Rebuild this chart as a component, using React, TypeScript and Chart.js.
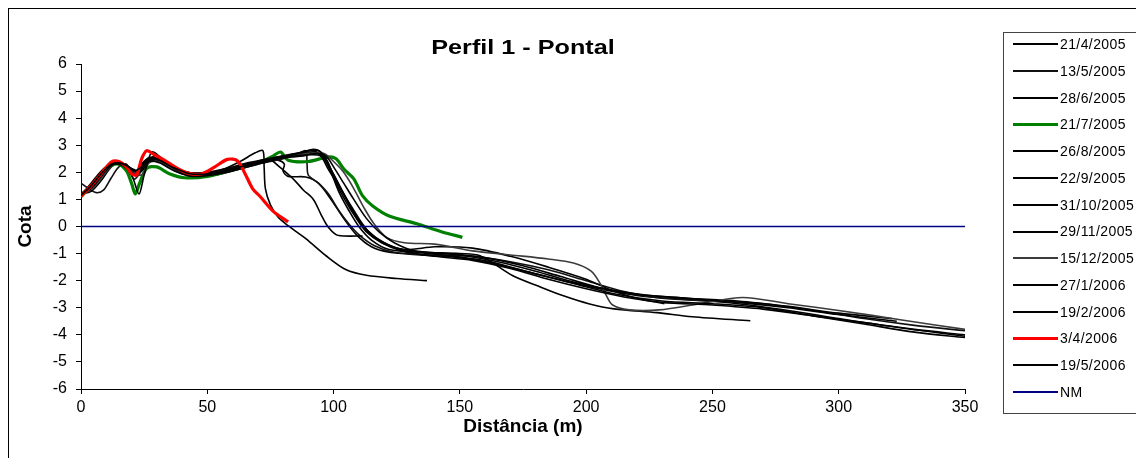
import React, { useEffect, useRef } from "react";
import { Chart, registerables } from "chart.js";

Chart.register(...registerables);

type P = [number, number];

// ---- data (distance m, cota) ----
const s21_4_2005: P[] = [[0,1.15],[4,1.6],[8,2.05],[12,2.35],[15,2.35],[18,2.2],[21,1.95],[24,2.3],[27,2.55],[31,2.45],[36,2.15],[42,1.95],[50,1.95],[58,2.1],[66,2.3],[74,2.45],[78,2.45],[80.5,2.3],[80,2.05],[82,1.85],[89,1.83],[94,1.6],[99,1.0],[104,0.3],[109,-0.3],[115,-0.75],[122,-0.95],[135,-1.05],[150,-1.15],[165,-1.4],[180,-1.75],[200,-2.2],[220,-2.55],[240,-2.7],[260,-2.85],[280,-3.1],[300,-3.4],[325,-3.75],[350,-4.05]];
const s13_5_2005: P[] = [[0,1.6],[3,1.4],[6,1.25],[9,1.35],[12,1.8],[15,2.2],[18,2.3],[21,1.75],[24,2.05],[28,2.45],[33,2.3],[40,1.95],[48,1.85],[56,1.95],[64,2.15],[72,2.35],[80,2.5],[86,2.7],[89,2.8],[89.5,2.3],[90,1.9],[94,1.6],[98,1.2],[102,0.6],[106,0.1],[110,-0.3],[116,-0.7],[124,-0.95],[138,-1.05],[155,-1.1],[170,-1.3],[185,-1.6],[200,-2.0],[215,-2.4],[230,-2.65],[250,-2.75],[270,-2.85],[290,-3.1],[310,-3.4],[330,-3.65],[350,-3.85]];
const s28_6_2005: P[] = [[0,1.2],[4,1.3],[8,1.7],[12,2.2],[15,2.35],[19,2.2],[22,1.9],[25,2.25],[29,2.6],[33,2.4],[40,2.05],[48,1.95],[56,2.1],[63,2.4],[69,2.72],[72,2.8],[72.5,2.2],[73,1.4],[75,0.8],[78,0.35],[82,0.03],[89,-0.45],[97,-1.08],[105,-1.6],[113,-1.8],[125,-1.92],[137,-2.0]];
const s21_7_2005: P[] = [[0,1.1],[4,1.5],[8,1.95],[12,2.25],[15,2.3],[18,2.05],[20,1.6],[21.5,1.2],[23,1.55],[26,2.15],[30,2.2],[35,1.95],[41,1.8],[50,1.85],[60,2.1],[70,2.35],[76,2.6],[79,2.75],[82,2.45],[90,2.4],[98,2.57],[101,2.5],[104,2.13],[108,1.76],[111.5,1.13],[115.5,0.76],[122,0.39],[133,0.1],[143,-0.2],[151,-0.4]];
const s26_8_2005: P[] = [[0,1.15],[4,1.45],[8,1.9],[12,2.3],[16,2.3],[19,2.15],[22,2.0],[25,2.35],[29,2.45],[34,2.3],[41,1.95],[49,1.9],[57,2.05],[64,2.25],[70,2.4],[75,2.45],[78,2.25],[84,1.76],[88,1.35],[92,1.0],[95,0.45],[97.5,0.03],[101,-0.3],[104,-0.35],[111.5,-0.35]];
const s22_9_2005: P[] = [[0,1.15],[4,1.55],[8,2.0],[12,2.3],[16,2.3],[20,2.05],[23,2.0],[26,2.4],[30,2.5],[35,2.25],[42,2.0],[50,2.0],[58,2.15],[66,2.35],[74,2.5],[82,2.65],[88,2.75],[92,2.8],[95,2.6],[98,2.1],[102,1.5],[106,0.9],[110,0.3],[114,-0.2],[120,-0.6],[128,-0.85],[140,-0.75],[155,-0.8],[170,-1.1],[185,-1.5],[200,-1.95],[210,-2.35],[220,-2.65],[231,-2.85]];
const s31_10_2005: P[] = [[0,1.2],[4,1.5],[8,1.95],[12,2.3],[16,2.3],[19,2.1],[22,1.95],[25,2.3],[29,2.45],[34,2.25],[40,2.0],[48,1.9],[56,2.0],[64,2.2],[72,2.4],[80,2.55],[88,2.7],[93,2.75],[96,2.55],[99,2.0],[102,1.3],[106,0.6],[110,0.0],[115,-0.5],[122,-0.85],[135,-0.95],[150,-1.0],[158,-1.08],[171,-1.82],[181,-2.2],[191,-2.56],[201,-2.85],[211,-3.04],[228,-3.18],[242,-3.33],[265,-3.48]];
const s29_11_2005: P[] = [[0,1.15],[4,1.55],[8,2.0],[12,2.3],[16,2.35],[19,2.2],[22,2.05],[25,2.4],[29,2.55],[34,2.35],[40,2.05],[48,1.95],[56,2.05],[64,2.25],[72,2.45],[80,2.6],[86,2.7],[90,2.8],[94,2.8],[97,2.5],[100,1.9],[104,1.2],[108,0.5],[113,-0.1],[118,-0.5],[125,-0.8],[135,-0.95],[150,-1.05],[165,-1.3],[180,-1.65],[195,-2.05],[210,-2.35],[225,-2.55],[240,-2.65],[260,-2.75],[280,-2.95],[300,-3.2],[321,-3.4]];
const s15_12_2005: P[] = [[0,1.2],[5,1.45],[9,1.9],[13,2.3],[17,2.3],[21,2.0],[24,1.9],[27,2.35],[31,2.4],[37,2.1],[44,1.9],[52,1.95],[60,2.1],[68,2.3],[76,2.45],[84,2.6],[90,2.7],[96,2.7],[100,2.4],[104,2.0],[108,1.4],[112,0.7],[116,0.1],[121,-0.4],[128,-0.6],[140,-0.65],[155,-0.9],[170,-1.05],[185,-1.2],[195,-1.35],[202,-1.65],[205.5,-2.1],[208,-2.55],[210.5,-2.9],[217,-3.08],[229,-3.08],[245,-2.85],[262,-2.62],[280,-2.85],[300,-3.1],[325,-3.45],[350,-3.8]];
const s27_1_2006: P[] = [[0,1.15],[4,1.4],[8,1.85],[12,2.25],[15,2.3],[18,2.15],[20.5,1.8],[23,1.2],[25,1.9],[28,2.75],[31,2.6],[36,2.2],[42,1.95],[50,1.9],[58,2.05],[66,2.25],[74,2.45],[82,2.6],[88,2.75],[92,2.85],[95,2.75],[98,2.3],[101,1.6],[105,0.9],[109,0.3],[113,-0.2],[119,-0.6],[127,-0.9],[140,-1.1],[155,-1.25],[170,-1.55],[185,-1.95],[200,-2.3],[215,-2.6],[230,-2.8],[250,-2.9],[270,-3.05],[290,-3.3],[310,-3.55],[330,-3.8],[350,-4.0]];
const s19_2_2006: P[] = [[0,1.2],[4,1.55],[8,2.0],[12,2.3],[15,2.35],[18,2.25],[21,2.1],[24,2.05],[27,2.4],[31,2.35],[37,2.05],[44,1.85],[52,1.9],[60,2.05],[68,2.25],[76,2.45],[82,2.55],[88,2.6],[93,2.7],[97,2.6],[100,2.2],[104,1.6],[108,1.0],[113,0.3],[118,-0.2],[124,-0.6],[132,-0.9],[145,-1.0],[160,-1.15],[175,-1.45],[190,-1.85],[205,-2.25],[220,-2.5],[240,-2.65],[260,-2.8],[280,-3.0],[300,-3.25],[323,-3.5]];
const s3_4_2006: P[] = [[0,1.12],[4,1.5],[8,1.95],[12,2.38],[15,2.4],[18,2.2],[20,1.95],[22,1.9],[24,2.5],[26,2.8],[29,2.65],[33,2.45],[38,2.15],[43,1.95],[48,1.95],[53,2.2],[58,2.48],[62,2.42],[65,1.94],[68,1.39],[71,1.1],[76,0.57],[82,0.17]];
const s19_5_2006: P[] = [[0,1.15],[4,1.5],[8,1.95],[12,2.3],[15,2.35],[18,2.25],[21,2.05],[24,2.2],[27,2.5],[31,2.45],[36,2.2],[43,1.95],[51,1.95],[59,2.1],[67,2.3],[75,2.45],[80,2.55],[85,2.6],[90,2.65],[95,2.6],[99,2.1],[103,1.4],[107,0.7],[111,0.1],[116,-0.4],[123,-0.75],[133,-0.95],[148,-1.1],[162,-1.3],[178,-1.7],[195,-2.1],[212,-2.5],[230,-2.75],[250,-2.85],[270,-3.0],[290,-3.3],[310,-3.6],[330,-3.9],[350,-4.1]];
const nmLevel: P[] = [[0,0],[350,0]];

const seriesLabels = ["21/4/2005","13/5/2005","28/6/2005","21/7/2005","26/8/2005","22/9/2005","31/10/2005","29/11/2005","15/12/2005","27/1/2006","19/2/2006","3/4/2006","19/5/2006","NM"];
const seriesData: P[][] = [s21_4_2005,s13_5_2005,s28_6_2005,s21_7_2005,s26_8_2005,s22_9_2005,s31_10_2005,s29_11_2005,s15_12_2005,s27_1_2006,s19_2_2006,s3_4_2006,s19_5_2006,nmLevel];
const seriesColors = ["#000000","#111111","#000000","#008000","#000000","#000000","#000000","#000000","#3c3c3c","#000000","#000000","#ff0000","#000000","#000080"];
const seriesWidths = [1.6,1.6,1.6,3.2,1.6,1.6,1.6,1.6,1.6,1.6,1.6,3.2,1.6,1.6];

const xTickValues = [0,50,100,150,200,250,300,350];
const yTickValues = [-6,-5,-4,-3,-2,-1,0,1,2,3,4,5,6];

const FONT = '"Liberation Sans", Arial, Helvetica, sans-serif';

const titlePlugin = {
  id: "customTitle",
  afterDraw(chart: any) {
    const { ctx, chartArea } = chart;
    ctx.save();
    ctx.font = `bold 21px ${FONT}`;
    ctx.fillStyle = "#000";
    ctx.textAlign = "center";
    ctx.textBaseline = "middle";
    ctx.translate((chartArea.left + chartArea.right) / 2, 40);
    ctx.scale(1.2, 1);
    ctx.fillText("Perfil 1 - Pontal", 0, 0);
    ctx.restore();
  },
};

export default function App() {
  const ref = useRef<HTMLCanvasElement>(null);
  useEffect(() => {
    const canvas = ref.current!;
    Chart.defaults.font.family = FONT;
    const n = seriesData.length;
    const datasets = seriesData.map((pts, i) => ({
      label: seriesLabels[i],
      data: pts.map(([x, y]) => ({ x, y })),
      borderColor: seriesColors[i],
      backgroundColor: seriesColors[i],
      borderWidth: seriesWidths[i],
      pointRadius: 0,
      showLine: true,
      fill: false,
      tension: i === n - 1 ? 0 : 0.3,
      order: n - i,
    }));
    const chart = new Chart(canvas, {
      type: "scatter",
      data: { datasets },
      options: {
        responsive: false,
        animation: false,
        layout: { padding: { left: 0, top: 56, right: 171, bottom: 0 } },
        plugins: {
          legend: { display: false },
          tooltip: { enabled: false },
          title: { display: false },
        },
        scales: {
          x: {
            type: "linear",
            min: 0,
            max: 350,
            afterBuildTicks: (s: any) => { s.ticks = xTickValues.map((v) => ({ value: v })); },
            ticks: { color: "#000", font: { size: 16 }, padding: 4, maxRotation: 0 },
            grid: { drawOnChartArea: false, drawTicks: true, tickLength: 5, color: "#000" },
            border: { color: "#000", width: 1 },
            title: { display: true, text: "Distância (m)", color: "#000", font: { size: 19, weight: "bold" }, padding: { top: 0, bottom: 20 } },
            afterFit: (s: any) => { s.height = 69; },
          },
          y: {
            type: "linear",
            min: -6,
            max: 6,
            afterBuildTicks: (s: any) => { s.ticks = yTickValues.map((v) => ({ value: v })); },
            ticks: { color: "#000", font: { size: 16 }, padding: 9 },
            grid: { drawOnChartArea: false, drawTicks: true, tickLength: 5, color: "#000" },
            border: { color: "#000", width: 1 },
            title: { display: true, text: "Cota", color: "#000", font: { size: 19, weight: "bold" }, padding: { top: 6, bottom: 0 } },
            afterFit: (s: any) => { s.width = 73; },
          },
        },
      },
      plugins: [titlePlugin],
    } as any);
    return () => chart.destroy();
  }, []);

  const rowStep = 26.77;
  return (
    <div style={{ position: "fixed", left: 8, top: 8, width: 1128, height: 450, overflow: "hidden", background: "#fff" }}>
      <div style={{ position: "absolute", left: 0, top: 0, width: 1400, height: 700, border: "1px solid #000", boxSizing: "border-box" }} />
      <canvas ref={ref} width={1128} height={450} style={{ position: "absolute", left: 0, top: 0, width: 1128, height: 450 }} />
      <div style={{ position: "absolute", left: 995, top: 24, width: 200, height: 382, border: "1px solid #444", boxSizing: "border-box", fontFamily: FONT, fontSize: 14, letterSpacing: "0.4px", color: "#000" }}>
        {seriesLabels.map((lab, i) => (
          <div key={lab} style={{ position: "absolute", left: 0, top: 11 + i * rowStep - 8, height: 16, width: 200 }}>
            <div style={{ position: "absolute", left: 9, top: 8 - seriesWidths[i] / 2, width: 45, height: seriesWidths[i] > 2 ? 3 : 2, background: seriesColors[i] }} />
            <div style={{ position: "absolute", left: 56, top: 0, lineHeight: "16px", whiteSpace: "nowrap" }}>{lab}</div>
          </div>
        ))}
      </div>
    </div>
  );
}
